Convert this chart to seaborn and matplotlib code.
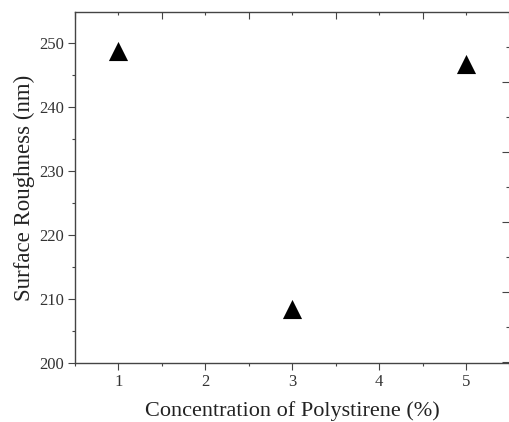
import matplotlib
matplotlib.use("Agg")
import matplotlib.pyplot as plt
import seaborn as sns
import pandas as pd
from matplotlib.ticker import MultipleLocator, NullFormatter

sns.set_theme(style="white")
plt.rcParams['font.family'] = ['Liberation Serif', 'DejaVu Serif']

# Data
concentration = [1, 3, 5]
roughness = [248.75, 208.5, 246.7]
x_label = "Concentration of Polystirene (%)"
y_label = "Surface Roughness (nm)"

df = pd.DataFrame({"conc": concentration, "rough": roughness})

fig = plt.figure(figsize=(5.09, 4.22), dpi=100)
ax = fig.add_axes([75/509, (422-363.3)/422, (509.4-75)/509, (363.3-12)/422])

sns.scatterplot(data=df, x="conc", y="rough", marker="^", s=190, color="black",
                linewidth=0, ax=ax, legend=False, zorder=3)

ax.set_xlim(0.5, 5.5)
ax.set_ylim(200, 254.9)
ax.xaxis.set_major_locator(MultipleLocator(1))
ax.xaxis.set_minor_locator(MultipleLocator(0.5))
ax.yaxis.set_major_locator(MultipleLocator(10))
ax.yaxis.set_minor_locator(MultipleLocator(5))

spine_col = "#444444"
for s in ["left", "bottom", "top"]:
    ax.spines[s].set_color(spine_col)
    ax.spines[s].set_linewidth(1.0)
ax.spines["right"].set_visible(False)

ax.tick_params(axis="both", which="major", direction="out", length=4.8, width=0.8,
               color=spine_col, labelsize=12, labelcolor="#333333", pad=3,
               bottom=True, left=True, top=False, right=False)
ax.tick_params(axis="both", which="minor", direction="out", length=2.5, width=0.8,
               color=spine_col, bottom=True, left=True, top=False, right=False)

ax.set_xlabel(x_label, fontsize=16, color="#222222", labelpad=8)
ax.set_ylabel(y_label, fontsize=16.5, color="#222222", labelpad=3)

# top axis ticks (inward, offset)
axt = ax.twiny()
axt.set_xlim(0.5, 5.5)
axt.xaxis.set_major_locator(MultipleLocator(1, offset=0.5))
axt.xaxis.set_minor_locator(MultipleLocator(0.5))
axt.xaxis.set_major_formatter(NullFormatter())
axt.tick_params(axis="x", which="major", direction="in", length=4.8, width=0.8, color=spine_col)
axt.tick_params(axis="x", which="minor", direction="in", length=2.5, width=0.8, color=spine_col)
for s in axt.spines.values():
    s.set_visible(False)
axt.grid(False)

# right axis ticks (inward)
axr = ax.twinx()
axr.set_ylim(-0.023, 4.996)
axr.yaxis.set_major_locator(MultipleLocator(1))
axr.yaxis.set_minor_locator(MultipleLocator(0.5))
axr.yaxis.set_major_formatter(NullFormatter())
axr.tick_params(axis="y", which="major", direction="in", length=4.8, width=0.8, color=spine_col)
axr.tick_params(axis="y", which="minor", direction="in", length=2.5, width=0.8, color=spine_col)
for s in axr.spines.values():
    s.set_visible(False)
axr.grid(False)

fig.savefig("out.png", dpi=100)
